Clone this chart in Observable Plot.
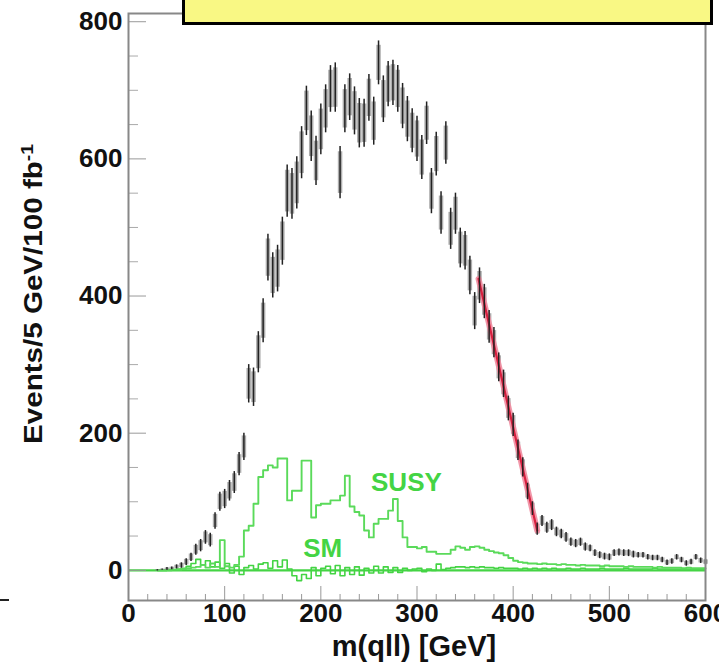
<!DOCTYPE html>
<html><head><meta charset="utf-8">
<script src="https://cdn.jsdelivr.net/npm/d3@7"></script>
<script src="https://cdn.jsdelivr.net/npm/@observablehq/plot@0.6"></script>
<style>
html,body{margin:0;padding:0;background:#fff;overflow:hidden;width:719px;height:671px}
#wrap{position:relative;width:719px;height:671px;overflow:hidden}
#wrap svg{position:absolute;left:0;top:0}
#titlebox{position:absolute;left:182px;top:-10px;width:525px;height:29px;background:#f9f884;border:3px solid #000;z-index:5}
#dash{position:absolute;left:0;top:599px;width:9px;height:2px;background:#222}
</style></head><body><div id="wrap"><div id="titlebox"></div><div id="dash"></div></div>
<script>
// bin centres, m(qll) [GeV]
const mass = [30,35,40,45,50,55,60,65,70,75,80,85,90,95,100,105,110,115,120,125,130,135,140,145,150,155,160,165,170,175,180,185,190,195,200,205,210,215,220,225,230,235,240,245,250,255,260,265,270,275,280,285,290,295,300,305,310,315,320,325,330,335,340,345,350,355,360,365,370,375,380,385,390,395,400,405,410,415,420,425,430,435,440,445,450,455,460,465,470,475,480,485,490,495,500,505,510,515,520,525,530,535,540,545,550,555,560,565,570,575,580,585,590,595,600];
// total events (points with error bars)
const events = [0,1,2,3,5,7,12,19,30,36,
 48,44,72,100,104,116,128,155,180,272,
 267,318,364,456,430,440,480,553,549,565,
 609,670,633,597,643,673,702,704,580,673,
 690,670,652,652,689,655,740,687,709,711,
 702,677,658,641,629,602,652,553,607,521,
 623,498,520,470,466,430,378,415,392,355,
 332,296,272,236,212,175,150,115,90,60,
 72,62,66,56,53,48,41,39,41,34,
 32,25,22,20,19,25,26,25,25,23,
 22,22,19,18,18,15,11,13,19,15,
 10,12,19,14,12];
const errors = [1,1,2,2,3,4,5,6,8,9,
 10,10,12,14,14,15,16,17,20,28,
 28,30,32,34,33,34,35,38,37,38,
 38,36,37,36,37,35,34,36,38,35,
 34,35,36,35,34,35,32,34,33,33,
 34,33,33,32,33,32,31,33,32,31,
 31,30,30,29,28,28,27,26,25,24,
 22,21,20,18,17,15,14,12,10,9,
 8,8,8,7,7,7,6,6,6,6,
 5,5,5,5,5,5,5,5,5,5,
 4,4,4,4,4,4,4,4,4,4,
 4,4,4,4,4];
// SUSY histogram (bin lower edges = mass)
const susy = [0,0,0,1,1,2,3,4,5,8,
 4,10,5,44,6,4,8,20,58,65,
 97,136,146,153,150,163,163,102,116,116,
 160,160,77,95,97,97,102,102,109,138,
 93,85,80,58,48,68,75,75,87,104,
 72,48,34,34,32,34,27,27,24,24,
 24,30,35,33,30,34,35,33,30,28,
 26,25,22,18,14,12,11,10,10,9,
 10,9,9,8,9,8,8,7,8,7,
 7,7,6,7,6,6,6,5,6,5,
 5,5,5,4,5,4,4,4,4,3,
 4,3,3,3,3];
// SM histogram
const sm = [0,0,1,1,2,3,6,10,16,8,
 14,5,12,3,10,-4,6,-6,4,7,
 2,9,11,3,14,5,15,2,-8,-15,
 -6,-12,4,-8,3,6,-5,7,-8,4,
 -6,5,-7,3,-4,6,-4,5,-3,4,
 -3,3,0,2,3,-2,2,0,9,1,
 3,4,5,5,4,5,4,5,4,4,
 3,4,3,3,3,2,3,2,3,2,
 3,2,3,2,2,3,2,2,3,2,
 2,2,3,2,2,2,2,3,2,2,
 2,2,2,3,2,2,2,2,2,2,
 2,2,2,2,2];
// linear endpoint fit
const fitMass = [364, 425];
const fitEvents = [425, 58];
const xTicks = [0,100,200,300,400,500,600];
const xMinorTicks = [20,40,60,80,120,140,160,180,220,240,260,280,320,340,360,380,420,440,460,480,520,540,560,580];
const yTicks = [0,200,400,600,800];
const yMinorTicks = [50,100,150,250,300,350,450,500,550,650,700,750];
const xLabel = "m(qll) [GeV]";
const yLabel = "Events/5 GeV/100 fb";
const ySup = "-1";
const seriesNames = ["SUSY", "SM"];

const pts = mass.map((m, i) => ({m, v: events[i], e: errors[i]}));
const hist = mass.map((m, i) => ({m, susy: susy[i], sm: sm[i]}));
const fit = fitMass.map((m, i) => ({m, v: fitEvents[i]}));

const green = "#44d444";
const font = "Liberation Sans, Arial, Helvetica, sans-serif";

const svg = Plot.plot({
  width: 719, height: 671,
  marginLeft: 128, marginRight: 14, marginTop: 13, marginBottom: 71,
  x: {domain: [0, 600]},
  y: {domain: [-44, 812]},
  style: {fontFamily: font, background: "#fff", color: "#111"},
  marks: [
    Plot.ruleY([0], {stroke: green, strokeWidth: 2.2}),
    Plot.line(hist, {x: "m", y: "sm", curve: "step-after", stroke: green, strokeWidth: 1.6}),
    Plot.line(hist, {x: "m", y: "susy", curve: "step-after", stroke: "#5ada5a", strokeWidth: 1.9}),
    Plot.ruleX(pts, {x: "m", y1: d => d.v - d.e * 0.8, y2: d => d.v + d.e * 0.8, stroke: "#8a8a8a", strokeWidth: 4.5, strokeOpacity: 0.7}),
    Plot.line(fit, {x: "m", y: "v", stroke: "#f08ca0", strokeWidth: 6, strokeOpacity: 0.9}),
    Plot.line(fit, {x: "m", y: "v", stroke: "#d8203f", strokeWidth: 2.2}),
    Plot.ruleX(pts, {x: "m", y1: d => d.v - d.e, y2: d => d.v + d.e, stroke: "#222", strokeWidth: 1.5}),
    Plot.text([seriesNames[0]], {x: 289, y: 128, text: d => d, fill: green, fontSize: 26, fontWeight: "bold"}),
    Plot.text([seriesNames[1]], {x: 202, y: 32, text: d => d, fill: green, fontSize: 26, fontWeight: "bold"}),
    Plot.axisX({ticks: xMinorTicks, tickSize: -6, text: null, label: null, stroke: "#999"}),
    Plot.axisX({ticks: xTicks, tickSize: -14, tickPadding: 17, label: null, stroke: "#999", fontSize: 26, fontWeight: "bold", fill: "#111"}),
    Plot.axisY({ticks: yMinorTicks, tickSize: -10, text: null, label: null, stroke: "#aaa"}),
    Plot.axisY({ticks: yTicks, tickSize: -18, tickPadding: 24, label: null, stroke: "#999", fontSize: 26, fontWeight: "bold", fill: "#111"}),
    Plot.frame({stroke: "#888", strokeWidth: 2}),
    Plot.text([xLabel], {frameAnchor: "bottom", dy: 55, dx: -3, text: d => d, fontSize: 29, fontWeight: "bold", fill: "#111"}),
    Plot.text([yLabel], {frameAnchor: "left", rotate: -90, dx: -95, dy: -13, textAnchor: "middle", text: d => d, fontSize: 26, fontWeight: "bold", fill: "#111"})
  ]
});
d3.select(svg).selectAll("text").filter(function(){ return this.textContent === yLabel; })
  .each(function(){
    d3.select(this).append("tspan").attr("baseline-shift", "super").attr("font-size", "17px").text(ySup);
    d3.select(this).attr("textLength", 300).attr("lengthAdjust", "spacingAndGlyphs");
  });
document.getElementById("wrap").prepend(svg);
</script></body></html>
